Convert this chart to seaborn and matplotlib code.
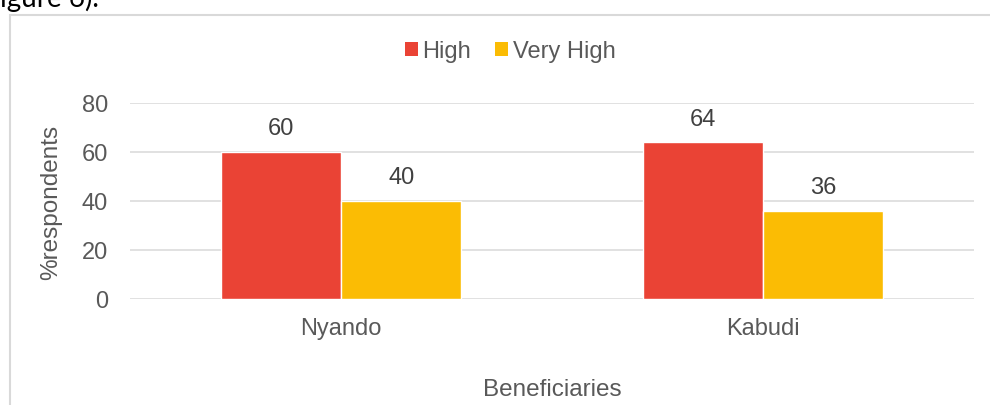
import matplotlib
matplotlib.use("Agg")
import matplotlib.pyplot as plt
from matplotlib.patches import Rectangle, Patch
import seaborn as sns
import pandas as pd

# Survey results by site
sites = ["Nyando", "Kabudi"]
levels = ["High", "Very High"]
high_pct = [60, 64]
very_high_pct = [40, 36]

colors = {"High": "#EA4335", "Very High": "#FBBC04"}
text_color = "#595959"
label_color = "#404040"
grid_color = "#D9D9D9"
fs = 17

df = pd.DataFrame({
    "site": sites * 2,
    "level": [levels[0]] * len(sites) + [levels[1]] * len(sites),
    "pct": high_pct + very_high_pct,
})

sns.set_theme(style="white")
plt.rcParams["font.family"] = ["Liberation Sans", "DejaVu Sans"]

W, H = 990, 406
fig = plt.figure(figsize=(W / 100, H / 100), dpi=100)
ax = fig.add_axes([130 / W, 1 - 300 / H, (974 - 130) / W, (300 - 104) / H])

sns.barplot(data=df, x="site", y="pct", hue="level", hue_order=levels,
            palette=colors, width=0.57, gap=0, saturation=1,
            legend=False, ax=ax, zorder=3)

ax.set_ylim(0, 80)
ax.set_yticks([0, 20, 40, 60, 80])
ax.set_xlim(-0.5, 1.5)
ax.yaxis.grid(True, color=grid_color, linewidth=1.1, zorder=0)
ax.xaxis.grid(False)
for s in ax.spines.values():
    s.set_visible(False)
ax.tick_params(axis="y", length=0, pad=16, labelsize=fs, labelcolor=text_color)
ax.tick_params(axis="x", length=0, pad=13, labelsize=fs, labelcolor=text_color)

for cont in ax.containers:
    ax.bar_label(cont, fmt="%.0f", padding=9, fontsize=fs, color=label_color)

ax.set_xlabel("Beneficiaries", fontsize=fs + 0.5, color=text_color, labelpad=28)
ax.set_ylabel("%respondents", fontsize=fs + 0.5, color=text_color, labelpad=14)

handles = [Patch(facecolor=colors[l], edgecolor="none") for l in levels]
fig.legend(handles, levels, loc="center", bbox_to_anchor=(510 / W, 1 - 52 / H),
           ncol=2, frameon=False, fontsize=fs, labelcolor=text_color,
           handlelength=0.55, handleheight=0.55, handletextpad=0.2,
           columnspacing=1.0)

# Chart frame
fig.patches.append(Rectangle((10 / W, -0.05), 1.1, 1 - 16 / H + 0.05,
                             transform=fig.transFigure, fill=False,
                             edgecolor=grid_color, linewidth=1.5))

# Surrounding document text
fig.text(0, 1 - 7 / H, "igure 6).", fontsize=20, family=["Lato", "DejaVu Sans"],
         color="#000000", va="baseline", ha="left")

fig.savefig("out.png", dpi=100)
